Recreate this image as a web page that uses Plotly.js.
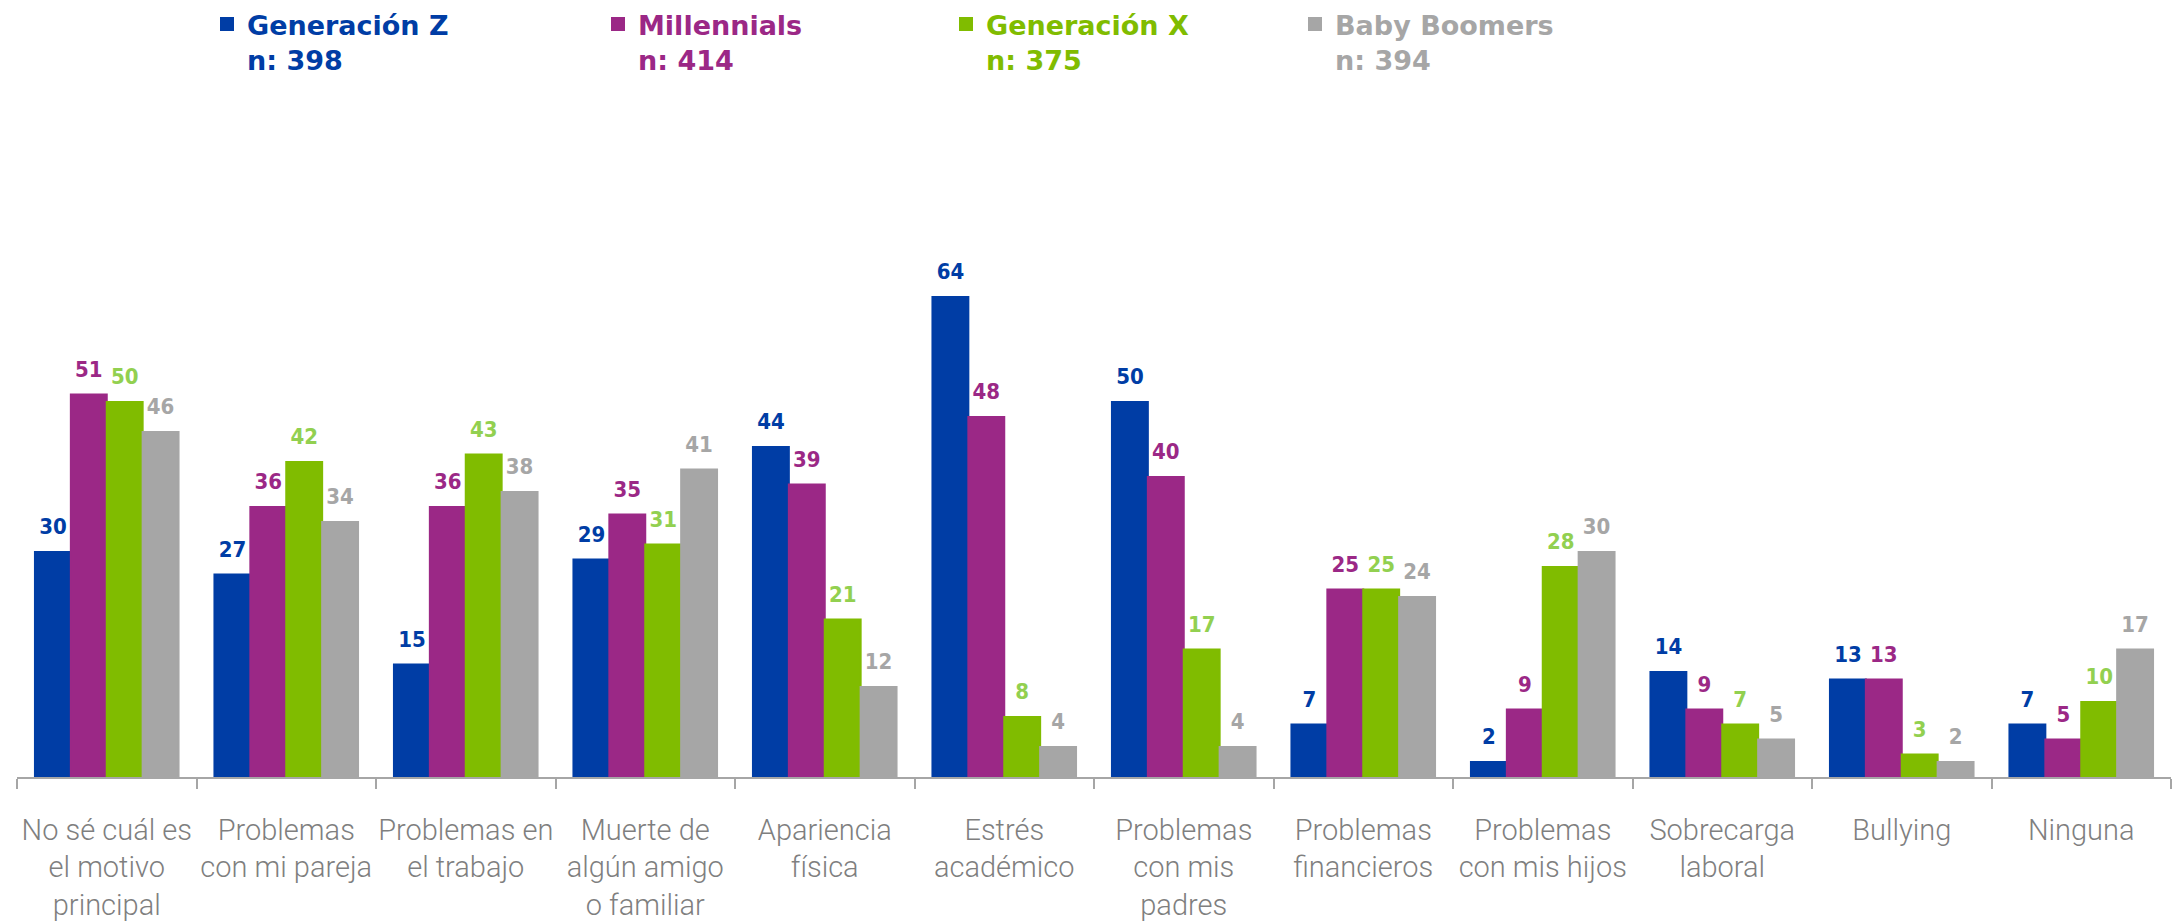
<!DOCTYPE html>
<html>
<head>
<meta charset="utf-8">
<script src="https://cdn.plot.ly/plotly-3.0.1.min.js"></script>
<style>
  html, body { margin: 0; padding: 0; background: #ffffff; }
  #grafico { width: 2176px; height: 923px; }
</style>
</head>
<body>
<div id="grafico"></div>
<script>
// ============================================
// Motivos de estrés por generación (%)
// ============================================

// Categorías del eje X (con los saltos de línea del original)
const categorias = [
    'No sé cuál es<br>el motivo<br>principal',
    'Problemas<br>con mi pareja',
    'Problemas en<br>el trabajo',
    'Muerte de<br>algún amigo<br>o familiar',
    'Apariencia<br>física',
    'Estrés<br>académico',
    'Problemas<br>con mis<br>padres',
    'Problemas<br>financieros',
    'Problemas<br>con mis hijos',
    'Sobrecarga<br>laboral',
    'Bullying',
    'Ninguna'
];

// Series y tamaño de muestra
const generaciones = ['Generación Z', 'Millennials', 'Generación X', 'Baby Boomers'];
const muestras = [398, 414, 375, 394];

// Valores por generación
const genZ        = [30, 27, 15, 29, 44, 64, 50,  7,  2, 14, 13,  7];
const millennials = [51, 36, 36, 35, 39, 48, 40, 25,  9,  9, 13,  5];
const genX        = [50, 42, 43, 31, 21,  8, 17, 25, 28,  7,  3, 10];
const boomers     = [46, 34, 38, 41, 12,  4,  4, 24, 30,  5,  2, 17];

const valores = [genZ, millennials, genX, boomers];

// Colores de barras y de etiquetas
const coloresBarra    = ['#003da5', '#9b2886', '#80bc00', '#a6a6a6'];
const coloresEtiqueta = ['#003da5', '#9b2886', '#92d050', '#a6a6a6'];

const fuenteEtiqueta = '"DejaVu Sans Condensed", "DejaVu Sans", sans-serif';
const fuenteLeyenda = '"DejaVu Sans", sans-serif';
const fuenteEje = 'Roboto, "Liberation Sans", sans-serif';

// Posición horizontal de cada leyenda (px del contenedor)
const leyendaX = [207, 598, 946, 1295];
const ANCHO = 2176;

const trazas = [];

// Barras
valores.forEach((serie, i) => {
    trazas.push({
        type: 'bar',
        x: categorias,
        y: serie,
        name: `<b>${generaciones[i]}</b><br><b>n: ${muestras[i]}</b>`,
        legend: i === 0 ? 'legend' : `legend${i + 1}`,
        marker: {
            color: coloresBarra[i],
            line: { color: coloresBarra[i], width: 2 }
        },
        hoverinfo: 'x+y'
    });
});

// Etiquetas de valor (scatter agrupado para alinear con las barras)
valores.forEach((serie, i) => {
    trazas.push({
        type: 'scatter',
        mode: 'markers+text',
        x: categorias,
        y: serie,
        text: serie.map(v => `<b>${v}</b>`),
        textposition: 'top center',
        textfont: { family: fuenteEtiqueta, size: 22, color: coloresEtiqueta[i] },
        marker: { size: 18, opacity: 0, color: coloresBarra[i] },
        cliponaxis: false,
        showlegend: false,
        hoverinfo: 'skip'
    });
});

const layout = {
    width: 2176,
    height: 923,
    paper_bgcolor: '#ffffff',
    plot_bgcolor: '#ffffff',
    margin: { l: 17, r: 5, t: 252, b: 146, autoexpand: false },
    barmode: 'group',
    bargap: 0.2,
    bargroupgap: 0,
    scattermode: 'group',
    scattergap: 0.2,
    showlegend: true,
    xaxis: {
        type: 'category',
        categoryorder: 'array',
        categoryarray: categorias,
        range: [-0.5, categorias.length - 0.5],
        autorange: false,
        automargin: false,
        tickangle: 0,
        showline: true,
        linecolor: '#a6a6a6',
        linewidth: 1.5,
        ticks: 'outside',
        tickson: 'boundaries',
        ticklen: 10,
        tickwidth: 1.5,
        tickcolor: '#a6a6a6',
        ticklabelstandoff: 26,
        showgrid: false,
        tickfont: { family: fuenteEje, size: 29, weight: 300, color: '#7f7f7f' },
        fixedrange: true
    },
    yaxis: {
        range: [0, 70],
        autorange: false,
        visible: false,
        showgrid: false,
        zeroline: false,
        fixedrange: true
    }
};

// Una leyenda por generación, cada una con su color de texto
generaciones.forEach((g, i) => {
    const clave = i === 0 ? 'legend' : `legend${i + 1}`;
    layout[clave] = {
        xref: 'container',
        yref: 'container',
        x: leyendaX[i] / ANCHO,
        y: 1,
        xanchor: 'left',
        yanchor: 'top',
        valign: 'top',
        bgcolor: 'rgba(0,0,0,0)',
        borderwidth: 0,
        font: { family: fuenteLeyenda, size: 27, color: coloresBarra[i] }
    };
});

const config = {
    responsive: false,
    displayModeBar: false,
    displaylogo: false
};

Plotly.newPlot('grafico', trazas, layout, config);
</script>
</body>
</html>
